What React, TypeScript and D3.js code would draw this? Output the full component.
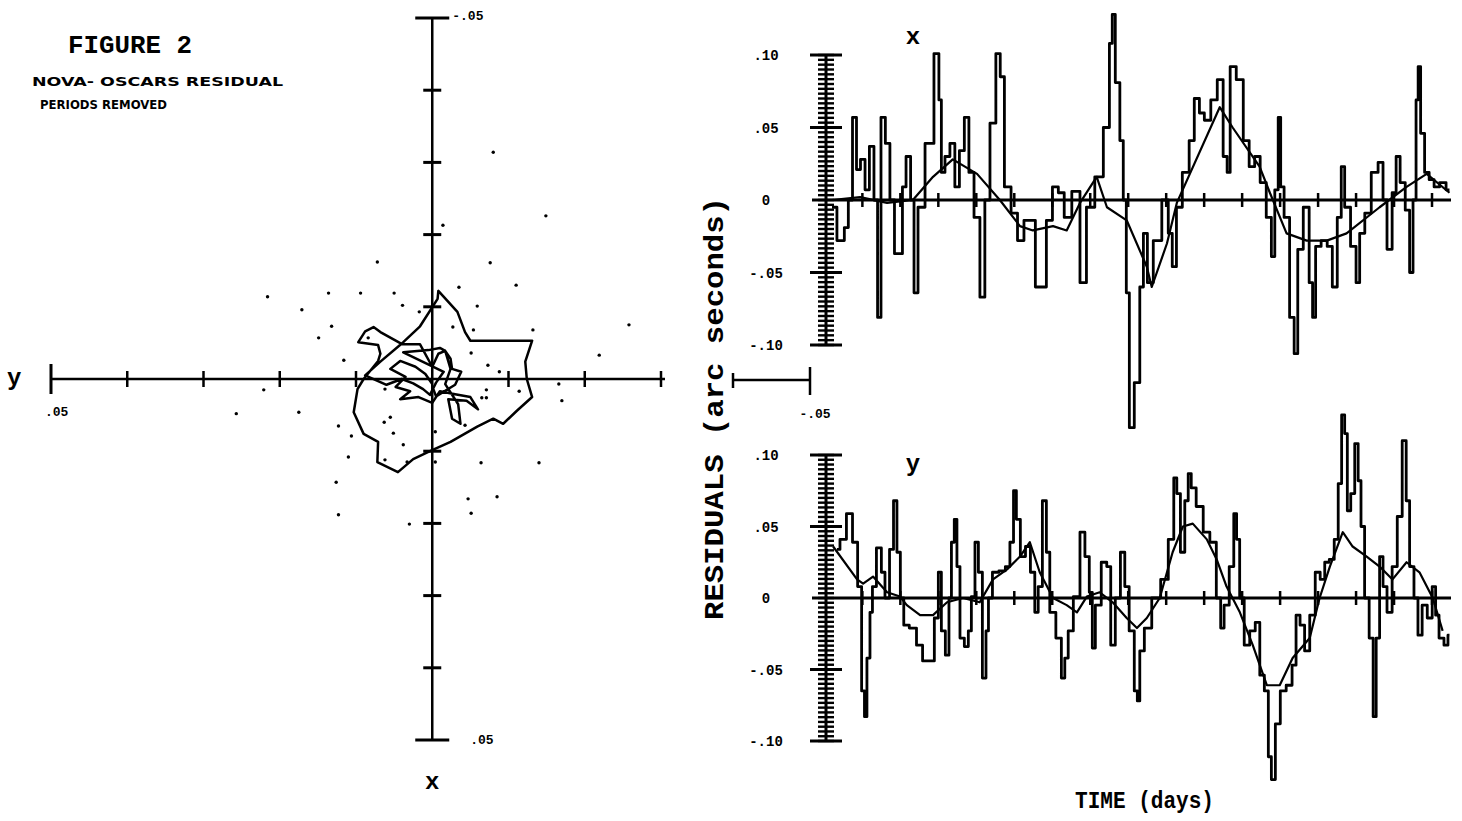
import React from 'react';
import * as d3 from 'd3';

// ---- left plot: pole path, milliarcseconds [y, x] ----
const polePath: [number, number][] = [
  [0, 0.7], [0.9, -0.7], [2.2, -1.7], [4.2, -2.5], [5.5, -1.4], [3.5, -0.3], [4.8, 1.1],
  [2.9, 1.7], [4.2, 2.8], [1.8, 2.5], [0, 3.3], [-1.0, 1.7], [-3.0, 2.1], [-5.0, 2.5],
  [-6.0, 4.2], [-4.5, 3.0], [-2.1, 2.8], [-2.6, 5.5], [-3.7, 6.2], [-3.4, 3.5], [-1.7, 0.7],
  [-2.4, -1.4], [-1.7, -3.9], [-0.8, -3.5], [0, -1.7], [1.6, -4.8],
  [3.9, -4.8], [6.8, -6.5], [7.7, -7.2], [8.8, -6.6], [9.7, -5.1], [7.1, -4.7], [6.8, -3.5], [7.1, -2.5],
  [9.0, 0], [9.8, 1.4], [10.3, 4.6], [9.0, 7.6], [7.1, 8.7], [7.2, 11.5], [4.5, 12.9], [2.5, 11.1],
  [0.3, 10.0], [-2.4, 8.7], [-5.9, 6.6], [-8.0, 5.5], [-9.3, 6.2], [-11.1, 4.4], [-13.1, 2.5],
  [-12.4, 0], [-12.2, -2.4], [-13.1, -5.3], [-5.0, -5.3], [-4.3, -6.5], [-3.3, -9.3], [-0.8, -12.2],
  [-0.7, -11.1], [1.6, -7.3], [3.8, -5.1], [6.8, -2.4], [8.8, -0.5],
  [6.0, 0.8], [4.0, 0.0], [2.5, 0.6], [1.2, 1.4], [0.3, 2.2], [-0.5, 0.5], [-1.5, -1.0],
  [3.8, -3.7], [0.5, -4.0], [-1.0, -4.3], [-1.7, -3.9], [-2.4, -2.8], [-2.6, -1.4], [-3.8, -1.0],
  [-3.0, 0.8], [-0.5, 2.4], [0, 1.0],
];

const poleDots: [number, number][] = [
  [-8.0, -31.4], [-14.9, -22.6], [-1.4, -21.3], [7.2, -16.2], [-7.6, -16.1], [-11.0, -13.0],
  [-3.5, -12.7], [21.6, -11.4], [13.6, -11.9], [9.4, -11.9], [5.0, -11.9], [17.1, -9.6],
  [3.9, -10.2], [-5.9, -10.1], [1.7, -9.3], [13.2, -7.3], [-5.4, -6.8], [-13.2, -6.8],
  [-25.8, -7.5], [-2.7, -7.2], [14.9, -5.7], [8.4, -5.7], [-21.9, -3.3], [-5.1, -3.6],
  [11.6, -2.6], [-7.3, -1.9], [-8.8, -1.0], [22.1, 1.5], [-16.6, 0.7], [-17.0, 3.0],
  [-7.1, 1.5], [-11.4, 1.7], [25.7, 4.8], [17.5, 4.6], [-6.5, 2.6], [-7.1, 2.6], [6.2, 1.4],
  [12.3, 6.5], [10.6, 7.9], [5.5, 5.3], [6.3, 6.0], [5.1, 7.5], [-4.3, 6.4], [-0.4, 7.3],
  [3.8, 9.1], [11.0, 10.8], [6.2, 11.2], [3.3, 11.5], [-0.4, 11.5], [-6.4, 11.6], [-14.0, 11.6],
  [12.6, 14.3], [-4.7, 16.6], [-8.5, 16.3], [12.3, 18.8], [-5.1, 18.6], [3.0, 20.1],
];

const poleYTicks = [40, 30, 20, 10, -10, -20, -30];
const poleXTicks = [-40, -30, -20, -10, 10, 20, 30, 40];

// ---- right plots: residuals [day, milliarcseconds] ----
const xResidualRaw: [number, number][] = [
  [0, -5], [2.6, -28], [3.9, -19], [4.7, 0], [6.1, 57], [6.8, 21], [8.2, 28], [9.2, 7], [10.5, 37],
  [11.6, 0], [12.4, -81], [13.4, 57], [14.7, 39], [15.8, 0], [17.1, -37], [18.4, -37], [18.7, 9],
  [20.3, 30], [21.1, 0], [22.1, -64], [23.2, -5], [25.8, 39], [27.9, 101], [28.4, 69], [29.2, 19],
  [30.3, 30], [31.8, 39], [32.9, 9], [34.2, 34], [35.5, 57], [36.6, 19], [38.2, -12], [39.7, -67],
  [40.8, 0], [42.4, 53], [43.9, 101], [44.7, 85], [46.1, 9], [48.2, -9], [49.5, -28], [51.6, -14],
  [55.5, -60], [57.4, -14], [58.7, 9], [60.5, 5], [61.8, -12], [64.5, 6], [66.1, -57], [67.9, -5],
  [70.5, 16], [72.4, 50], [73.7, 108], [73.9, 128], [75.3, 81], [76.3, 41], [77.1, 0], [77.9, -64],
  [78.7, -157], [80.5, -126], [81.6, -60], [82.4, -23], [83.7, -57], [85.5, -28], [88.2, 0],
  [88.9, -23], [90.3, -46], [91.1, -5], [93.4, 19], [94.7, 41], [96.1, 70], [97.4, 60], [98.7, 55],
  [100.8, 69], [102.1, 83], [103.9, 30], [104.2, 19], [105.5, 92], [107.4, 83], [109.2, 41],
  [110.5, 23], [112.1, 30], [113.4, 12], [115.3, -12], [116.1, -39], [117.1, 7], [117.9, 57],
  [118.4, 9], [119.7, -12], [121.3, -81], [122.1, -106], [123.2, -34], [125.0, -5], [126.3, -57],
  [126.8, -81], [127.9, -32], [129.7, -28], [131.1, -32], [132.4, -60], [133.7, -12], [134.5, 23],
  [135.5, -5], [137.6, -32], [138.4, -57], [139.5, -23], [141.1, -9], [142.9, 19], [144.7, 26],
  [145.5, 0], [146.8, -34], [148.2, 5], [148.9, 30], [150.3, 12], [151.6, -7], [152.6, -50],
  [153.4, 0], [154.2, 69], [154.5, 92], [155.5, 46], [156.6, 19], [157.9, 14], [159.2, 9],
  [160.8, 12], [162.6, 7],
];

const xResidualSmooth: [number, number][] = [
  [0, 0], [7.4, 2], [14.5, -2], [21.3, 0], [26.6, 16], [31.8, 28], [38.2, 18], [44.2, 0],
  [49.5, -18], [52.9, -21], [58.2, -18], [61.8, -21], [65.3, -2], [69.7, 16], [72.4, -5],
  [77.6, -14], [82.9, -46], [84.2, -60], [88.2, -30], [90.8, -2], [102.1, 64], [105.5, 50],
  [112.6, 23], [115.3, 5], [119.7, -23], [125.0, -28], [130.3, -28], [135.5, -23], [144.2, -5],
  [151.3, 9], [156.6, 18], [162.6, 5],
];

const yResidualRaw: [number, number][] = [
  [1.3, 34], [2.9, 41], [4.7, 59], [6.1, 39], [7.4, 8], [8.2, -65], [8.9, -83], [9.5, -42],
  [10.5, -10], [10.8, 8], [12.6, 35], [13.4, 18], [14.5, 0], [15.8, 34], [16.6, 68], [17.6, 32],
  [18.4, 0], [19.4, -19], [21.3, -21], [23.2, -33], [24.5, -44], [26.3, -44], [27.6, -14],
  [28.4, 18], [29.2, -23], [30.5, -40], [31.1, 0], [31.8, 39], [32.6, 55], [33.2, 22], [34.2, -28],
  [35.5, -34], [36.3, -23], [37.1, 1], [38.2, 39], [38.9, 18], [40.3, -56], [40.8, -23], [41.6, 0],
  [42.9, 18], [45.0, 19], [46.3, 22], [47.4, 39], [48.2, 75], [48.9, 55], [50.3, 29], [51.6, 36],
  [52.9, 18], [53.9, -10], [54.7, 8], [56.1, 68], [56.8, 32], [57.9, -10], [60.0, -28], [60.8, -56],
  [61.8, -42], [62.6, -23], [64.5, 1], [66.1, 46], [67.1, 29], [68.4, 4], [68.7, -35], [70.0, -5],
  [71.8, 25], [72.9, 22], [73.9, -33], [75.3, 0], [76.6, 32], [77.6, 8], [78.9, -23], [80.3, -65],
  [80.5, -72], [81.6, -37], [82.9, -21], [85.5, 0], [87.6, 13], [89.5, 41], [90.5, 84], [91.1, 73],
  [92.4, 32], [93.4, 68], [94.2, 87], [95.0, 77], [96.8, 64], [98.7, 46], [100.3, 39], [102.1, 0],
  [102.6, -21], [103.9, -5], [105.3, 22], [106.3, 59], [106.8, 41], [107.9, 0], [109.2, -33],
  [110.8, -23], [112.1, -17], [113.2, -54], [114.5, -65], [115.3, -111], [116.1, -127],
  [117.4, -88], [118.7, -65], [120.5, -61], [121.8, -47], [122.6, -12], [123.9, -19], [125.0, -37],
  [126.6, -12], [127.9, 18], [129.2, 13], [130.3, 25], [131.6, 27], [132.9, 41], [133.7, 80],
  [134.7, 128], [135.3, 115], [136.1, 61], [137.1, 73], [138.2, 108], [138.9, 82], [139.7, 50],
  [140.8, 0], [142.1, -28], [142.9, -83], [143.7, -28], [144.7, 29], [145.5, 8], [146.8, -10],
  [148.2, 22], [149.5, 57], [150.8, 110], [151.6, 68], [152.6, 22], [153.9, 0], [154.7, -26],
  [156.1, -5], [157.4, -14], [158.7, 8], [159.2, -12], [160.5, -28], [161.8, -33], [162.6, -26],
];

const yResidualSmooth: [number, number][] = [
  [0.3, 36], [6.6, 13], [8.2, 10], [10.8, 15], [14.5, 4], [17.9, 1], [19.7, -5], [23.2, -12],
  [26.6, -12], [30.3, -3], [34.5, 0], [38.9, -3], [42.4, 13], [46.1, 20], [49.5, 29], [52.1, 39],
  [54.7, 18], [58.2, 0], [61.8, -5], [64.5, -10], [67.1, 1], [70.5, 4], [73.9, -3], [77.6, -14],
  [80.3, -21], [82.9, -14], [86.3, 0], [89.7, 32], [92.4, 50], [95.0, 52], [98.7, 41], [101.3, 27],
  [103.9, 8], [107.4, -10], [110.8, -33], [114.5, -61], [117.9, -61], [121.3, -42], [125.8, -28],
  [128.4, 0], [131.1, 22], [134.5, 46], [137.1, 36], [140.8, 29], [144.2, 22], [147.6, 13],
  [151.3, 25], [154.7, 18], [158.2, 0], [160.8, -23],
];

const residualTicks = [100, 50, 0, -50, -100];
const residualTickLabels = ['.10', '.05', '0', '-.05', '-.10'];
const dayTicks = d3.range(8, 163, 10);
const rulerTicks = d3.range(0, 61).map(i => -100 + (i * 200) / 60);

const MONO = "'Liberation Mono', 'DejaVu Sans Mono', monospace";

function PolePlot() {
  const hScale = d3.scaleLinear().domain([50, -30]).range([51, 661]);
  const vScale = d3.scaleLinear().domain([-50, 50]).range([18, 740]);
  const x0 = hScale(0);
  const y0 = vScale(0);
  const line = d3.line<[number, number]>()
    .x(d => hScale(d[0]))
    .y(d => vScale(d[1]));

  return (
    <g>
      {/* axes */}
      <line x1={x0} x2={x0} y1={vScale(-50)} y2={vScale(50)} stroke="#000" strokeWidth={2.5} />
      <line x1={hScale(50)} x2={hScale(-30) + 4} y1={y0} y2={y0} stroke="#000" strokeWidth={2.5} />
      {poleXTicks.map(t => (
        <line key={`v${t}`} x1={x0 - 9} x2={x0 + 9} y1={vScale(t)} y2={vScale(t)} stroke="#000" strokeWidth={3} />
      ))}
      {[-50, 50].map(t => (
        <line key={`vc${t}`} x1={x0 - 17} x2={x0 + 17} y1={vScale(t)} y2={vScale(t)} stroke="#000" strokeWidth={3} />
      ))}
      {poleYTicks.map(t => (
        <line key={`h${t}`} x1={hScale(t)} x2={hScale(t)} y1={y0 - 8} y2={y0 + 8} stroke="#000" strokeWidth={2.5} />
      ))}
      <line x1={hScale(50)} x2={hScale(50)} y1={y0 - 15} y2={y0 + 15} stroke="#000" strokeWidth={3} />

      {/* path and points */}
      <path d={line(polePath) ?? ''} fill="none" stroke="#000" strokeWidth={2.5} strokeLinejoin="round" />
      {poleDots.map((d, i) => (
        <circle key={i} cx={hScale(d[0])} cy={vScale(d[1])} r={1.7} fill="#000" />
      ))}

      {/* labels */}
      <text x={x0 + 20} y={vScale(-50) + 2} fontSize={13} fontWeight="bold" fontFamily={MONO}>-.05</text>
      <text x={x0 + 38} y={vScale(50) + 4} fontSize={13} fontWeight="bold" fontFamily={MONO}>.05</text>
      <text x={hScale(50) - 6} y={y0 + 37} fontSize={13} fontWeight="bold" fontFamily={MONO}>.05</text>
      <text x={7} y={y0 + 6} fontSize={24} fontWeight="bold" fontFamily={MONO}>y</text>
      <text x={x0} y={789} fontSize={24} fontWeight="bold" fontFamily={MONO} textAnchor="middle">x</text>
    </g>
  );
}

interface PanelProps {
  raw: [number, number][];
  smooth: [number, number][];
  yRange: [number, number];
  label: string;
  labelY: number;
}

function ResidualPanel({ raw, smooth, yRange, label, labelY }: PanelProps) {
  const tScale = d3.scaleLinear().domain([0, 163]).range([832, 1451]);
  const yScale = d3.scaleLinear().domain([-100, 100]).range(yRange);
  const rawLine = d3.line<[number, number]>()
    .x(d => tScale(d[0]))
    .y(d => yScale(d[1]))
    .curve(d3.curveStep);
  const smoothLine = d3.line<[number, number]>()
    .x(d => tScale(d[0]))
    .y(d => yScale(d[1]));
  const rx = 826;
  const y0 = yScale(0);

  return (
    <g>
      {/* ruler axis */}
      <line x1={rx} x2={rx} y1={yScale(100)} y2={yScale(-100)} stroke="#000" strokeWidth={3} />
      {rulerTicks.map((t, i) => (
        <line key={i} x1={rx - 8} x2={rx + 8} y1={yScale(t)} y2={yScale(t)} stroke="#000" strokeWidth={2.4} />
      ))}
      {residualTicks.filter(t => t !== 0).map(t => (
        <line key={`m${t}`} x1={rx - 16} x2={rx + 16} y1={yScale(t)} y2={yScale(t)} stroke="#000" strokeWidth={3} />
      ))}
      {residualTicks.map((t, i) => (
        <text key={`l${t}`} x={766} y={yScale(t) + 5} fontSize={14} fontWeight="bold"
          fontFamily={MONO} textAnchor="middle">{residualTickLabels[i]}</text>
      ))}

      {/* zero line with day ticks */}
      <line x1={812} x2={tScale(163)} y1={y0} y2={y0} stroke="#000" strokeWidth={3} />
      {dayTicks.map(t => (
        <line key={`d${t}`} x1={tScale(t)} x2={tScale(t)} y1={y0 - 7} y2={y0 + 7} stroke="#000" strokeWidth={2.5} />
      ))}

      <path d={smoothLine(smooth) ?? ''} fill="none" stroke="#000" strokeWidth={2.2} strokeLinejoin="round" />
      <path d={rawLine(raw) ?? ''} fill="none" stroke="#000" strokeWidth={2.8} strokeLinejoin="round" />

      <text x={913} y={labelY} fontSize={24} fontWeight="bold" fontFamily={MONO} textAnchor="middle">{label}</text>
    </g>
  );
}

export default function App() {
  return (
    <svg width={1462} height={821} style={{ position: 'absolute', left: 0, top: 0 }}>
      <rect width={1462} height={821} fill="#fff" />

      <text x={68} y={53} fontSize={25} fontWeight="bold" fontFamily={MONO} textLength={124}
        lengthAdjust="spacingAndGlyphs">FIGURE 2</text>
      <text x={32} y={86} fontSize={12} fontWeight="bold" fontFamily="'DejaVu Sans', sans-serif"
        textLength={251} lengthAdjust="spacingAndGlyphs">NOVA- OSCARS RESIDUAL</text>
      <text x={40} y={109} fontSize={12} fontWeight="bold" fontFamily="'DejaVu Sans', sans-serif"
        textLength={127} lengthAdjust="spacingAndGlyphs">PERIODS REMOVED</text>

      <PolePlot />

      <ResidualPanel raw={xResidualRaw} smooth={xResidualSmooth} yRange={[345, 55]} label="x" labelY={44} />
      <ResidualPanel raw={yResidualRaw} smooth={yResidualSmooth} yRange={[741, 455]} label="y" labelY={471} />

      {/* scale bar between panels */}
      <line x1={733} x2={810} y1={380} y2={380} stroke="#000" strokeWidth={2.5} />
      <line x1={733} x2={733} y1={373} y2={388} stroke="#000" strokeWidth={2.5} />
      <line x1={810} x2={810} y1={367} y2={395} stroke="#000" strokeWidth={2.5} />
      <text x={815} y={418} fontSize={13} fontWeight="bold" fontFamily={MONO} textAnchor="middle">-.05</text>

      <text transform="translate(723,620) rotate(-90)" fontSize={28} fontWeight="bold" fontFamily={MONO}
        textLength={423} lengthAdjust="spacingAndGlyphs">RESIDUALS (arc seconds)</text>
      <text x={1075} y={808} fontSize={23} fontWeight="bold" fontFamily={MONO} textLength={139}
        lengthAdjust="spacingAndGlyphs">TIME (days)</text>
    </svg>
  );
}
